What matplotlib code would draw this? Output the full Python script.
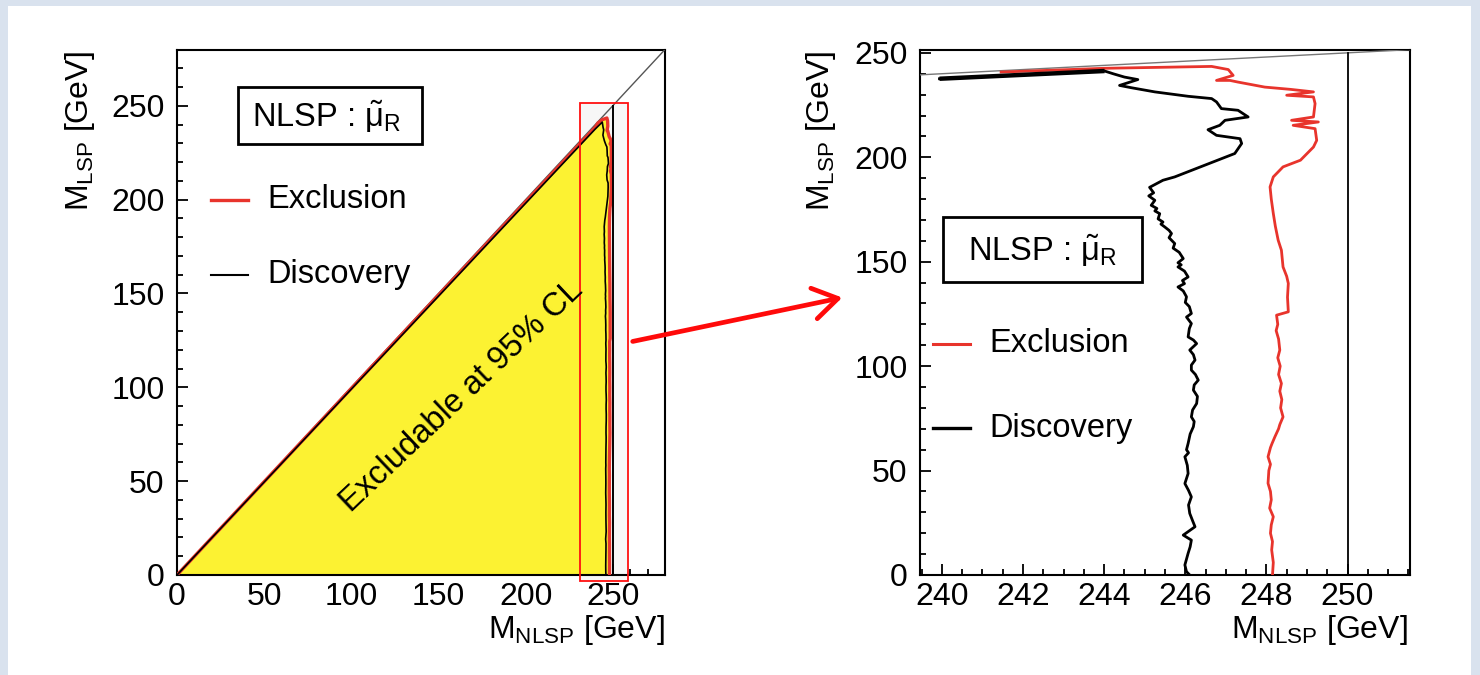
import matplotlib
matplotlib.use("Agg")
import matplotlib.pyplot as plt
from matplotlib.patches import Rectangle, FancyArrowPatch
from matplotlib.lines import Line2D
from matplotlib.ticker import MultipleLocator

plt.rcParams['font.family'] = ['Liberation Sans', 'DejaVu Sans']
plt.rcParams['mathtext.fontset'] = 'custom'
plt.rcParams['mathtext.rm'] = 'Liberation Sans'
plt.rcParams['mathtext.it'] = 'Liberation Sans'
plt.rcParams['mathtext.bf'] = 'Liberation Sans:bold'

# ---------------- data ----------------
# Discovery contour (M_NLSP, M_LSP) in GeV; first point is the origin of the diagonal edge
disc_x = [0.0, 239.94, 244.01, 244.22, 244.50, 244.83, 244.38, 244.67, 245.25, 246.07,
          246.65, 246.77, 246.89, 247.30, 247.55, 246.98, 246.85, 246.56, 246.77, 247.35,
          247.39, 247.22, 246.48, 245.74, 245.45, 245.12, 245.22, 245.10, 245.25, 245.16,
          245.30, 245.25, 245.37, 245.33, 245.45, 245.40, 245.49, 245.60, 245.66, 245.60,
          245.74, 245.70, 245.85, 245.95, 245.82, 245.90, 245.82, 245.98, 246.07, 245.93,
          245.98, 245.82, 245.95, 246.03, 246.00, 246.10, 246.15, 246.03, 246.15, 246.10,
          246.07, 246.20, 246.28, 246.11, 246.20, 246.24, 246.15, 246.15, 246.25, 246.32,
          246.22, 246.20, 246.30, 246.28, 246.18, 246.15, 246.22, 246.20, 246.12, 246.07,
          246.03, 246.08, 245.99, 246.05, 246.07, 245.99, 246.08, 246.15, 246.08, 246.11,
          246.18, 246.24, 245.95, 246.15, 246.12, 246.07, 245.99, 246.03, 246.11]
disc_y = [0.0, 237.6, 241.3, 240.0, 238.4, 237.2, 234.4, 233.3, 231.3, 229.2,
          228.1, 226.5, 223.3, 222.5, 219.3, 217.7, 215.3, 213.2, 210.5, 208.9,
          206.6, 201.8, 196.2, 190.6, 189.0, 185.6, 183.0, 181.5, 179.4, 177.0,
          175.5, 174.3, 173.0, 170.5, 169.0, 168.0, 166.7, 165.0, 163.5, 161.5,
          158.7, 156.5, 154.5, 151.5, 149.5, 148.5, 147.5, 145.5, 142.7, 141.0,
          139.5, 137.9, 136.0, 133.2, 130.5, 128.5, 125.2, 123.5, 120.4, 118.0,
          114.0, 112.5, 110.8, 107.7, 105.5, 102.9, 100.5, 98.1, 96.0, 93.3,
          91.0, 88.5, 85.5, 82.1, 79.0, 75.7, 73.5, 71.0, 67.5, 63.0,
          60.0, 58.5, 56.6, 52.5, 48.6, 43.8, 40.5, 37.4, 33.5, 29.5,
          26.0, 23.1, 19.1, 16.7, 13.5, 10.4, 4.8, 1.6, 0.0]

# Exclusion contour (M_NLSP, M_LSP) in GeV; first two points form the diagonal edge
excl_x = [0.0, 240.00, 241.46, 244.00, 246.65, 247.06, 247.18, 246.77, 247.10, 247.30,
          247.96, 248.60, 249.16, 248.50, 249.16, 249.20, 249.16, 248.62, 249.28, 248.66,
          249.20, 249.24, 249.16, 248.84, 248.41, 248.17, 248.09, 248.12, 248.17, 248.22,
          248.29, 248.37, 248.41, 248.50, 248.54, 248.52, 248.54, 248.25, 248.28, 248.24,
          248.30, 248.33, 248.28, 248.34, 248.30, 248.37, 248.33, 248.38, 248.35, 248.41,
          248.33, 248.30, 248.21, 248.14, 248.10, 248.04, 248.10, 248.06, 248.04, 248.10,
          248.12, 248.08, 248.17, 248.12, 248.10, 248.15, 248.13, 248.17, 248.15]
excl_y = [0.0, 238.6, 240.8, 242.6, 243.5, 242.0, 239.2, 236.8, 236.8, 236.0,
          233.6, 232.5, 231.3, 229.7, 228.9, 225.7, 219.3, 217.7, 216.9, 215.3,
          213.7, 208.1, 204.9, 198.6, 195.4, 190.6, 185.8, 180.0, 173.1, 167.0,
          160.3, 155.5, 147.5, 143.0, 139.6, 133.0, 126.0, 124.4, 120.0, 117.0,
          113.0, 107.7, 104.0, 100.0, 96.0, 91.7, 88.0, 84.0, 80.0, 75.7,
          72.0, 70.0, 66.2, 63.0, 61.0, 56.6, 53.0, 50.0, 43.9, 40.0,
          36.0, 32.0, 27.9, 24.0, 20.0, 16.0, 12.0, 6.0, 0.0]

diag = [0.0, 280.0]            # M_LSP = M_NLSP line
beam_x = [250.0, 250.0]        # kinematic limit
beam_y = [0.0, 250.0]
zoom_box = (231.2, -3.2, 258.7, 251.5)   # highlighted region on left plot

left_ticks = [0, 50, 100, 150, 200, 250]
right_xticks = [240, 242, 244, 246, 248, 250]
right_yticks = [0, 50, 100, 150, 200, 250]

RED = '#e8342c'
YELLOW = '#fcf232'

W, H = 1480, 675
fig = plt.figure(figsize=(W / 100, H / 100), dpi=100)
fig.patch.set_facecolor('#d9e2ee')

def fx(x):
    return x / W

def fy(y):
    return 1 - y / H

# white panel
fig.add_artist(Rectangle((fx(8), fy(675)), fx(1471) - fx(8), fy(6) - fy(675),
                         transform=fig.transFigure, facecolor='white', edgecolor='none', zorder=0))

axL = fig.add_axes([fx(177), fy(575), fx(665) - fx(177), fy(49.5) - fy(575)])
axR = fig.add_axes([fx(920), fy(575), fx(1410) - fx(920), fy(49.5) - fy(575)])

FS = 23
for ax in (axL, axR):
    ax.set_facecolor('white')
    for s in ax.spines.values():
        s.set_linewidth(1.5)
    ax.tick_params(which='both', direction='in', top=False, right=False, width=1.3,
                   labelsize=FS)
    ax.tick_params(which='major', length=8)
    ax.tick_params(which='minor', length=4.2)
    ax.tick_params(axis='x', pad=5)
    ax.tick_params(axis='y', pad=9)

# ---------------- left plot ----------------
axL.set_xlim(0, 280)
axL.set_ylim(0, 280)
axL.set_xticks(left_ticks)
axL.set_yticks(left_ticks)
axL.xaxis.set_minor_locator(MultipleLocator(10))
axL.yaxis.set_minor_locator(MultipleLocator(10))

bx0, by0, bx1, by1 = zoom_box
axL.add_patch(Rectangle((bx0, by0), bx1 - bx0, by1 - by0, facecolor=(0.5, 0.5, 0.5, 0.06),
                        edgecolor='none', zorder=1, clip_on=False))
axL.fill(excl_x, excl_y, color=YELLOW, zorder=2, lw=0)
axL.plot(diag, diag, color='#555555', lw=1.0, zorder=3)
axL.plot(excl_x, excl_y, color=RED, lw=2.4, zorder=4)
axL.plot(disc_x, disc_y, color='black', lw=1.2, zorder=5)
axL.plot(beam_x, beam_y, color='black', lw=1.4, zorder=5)
axL.add_patch(Rectangle((bx0, by0), bx1 - bx0, by1 - by0, facecolor='none',
                        edgecolor='#ff1010', lw=1.3, zorder=6, clip_on=False))
axL.text(163.5, 95.4, 'Excludable at 95% CL', rotation=43.5, ha='center', va='center',
         rotation_mode='anchor', fontsize=23.5, zorder=7)

# ---------------- right plot ----------------
axR.set_xlim(239.46, 251.54)
axR.set_ylim(0, 251.6)
axR.set_xticks(right_xticks)
axR.set_yticks(right_yticks)
axR.xaxis.set_minor_locator(MultipleLocator(0.5))
axR.yaxis.set_minor_locator(MultipleLocator(10))
axR.plot(diag, diag, color='#777777', lw=1.0, zorder=3)
axR.plot(beam_x, beam_y, color='black', lw=1.3, zorder=3)
axR.plot(excl_x[2:], excl_y[2:], color=RED, lw=2.0, zorder=4)
axR.plot(disc_x[1:], disc_y[1:], color='black', lw=2.0, zorder=5)
axR.plot(disc_x[1:3], disc_y[1:3], color='black', lw=3.2, zorder=5, solid_capstyle='butt')

# ---------------- labels ----------------
ylab = r'M$_{\mathrm{LSP}}$ [GeV]'
xlab = r'M$_{\mathrm{NLSP}}$ [GeV]'
fig.text(fx(80), fy(50), ylab, rotation=90, ha='center', va='top', fontsize=FS)
fig.text(fx(821), fy(50), ylab, rotation=90, ha='center', va='top', fontsize=FS)
fig.text(fx(665), fy(638), xlab, ha='right', va='baseline', fontsize=FS)
fig.text(fx(1408), fy(638), xlab, ha='right', va='baseline', fontsize=FS)

# ---------------- legends ----------------
def legend(box, text_xy, red_y, blk_y, line_x, txt_x, lw_r, lw_k):
    x0, y0, x1, y1 = box
    fig.add_artist(Rectangle((fx(x0), fy(y1)), fx(x1) - fx(x0), fy(y0) - fy(y1),
                             transform=fig.transFigure, facecolor='white',
                             edgecolor='black', lw=2.0, zorder=8))
    fig.text(fx(text_xy[0]), fy(text_xy[1]), r'NLSP : $\tilde{\mu}_{\mathrm{R}}$',
             ha='center', va='center', fontsize=FS + 0.5, zorder=9)
    fig.add_artist(Line2D([fx(line_x[0]), fx(line_x[1])], [fy(red_y), fy(red_y)],
                          transform=fig.transFigure, color=RED, lw=lw_r, zorder=9))
    fig.add_artist(Line2D([fx(line_x[0]), fx(line_x[1])], [fy(blk_y), fy(blk_y)],
                          transform=fig.transFigure, color='black', lw=lw_k, zorder=9))
    fig.text(fx(txt_x), fy(red_y), 'Exclusion', ha='left', va='center', fontsize=FS + 0.5, zorder=9)
    fig.text(fx(txt_x), fy(blk_y), 'Discovery', ha='left', va='center', fontsize=FS + 0.5, zorder=9)

legend((238, 87, 422, 144), (327, 117), 200, 275, (211, 248), 267, 2.4, 1.5)
legend((943, 217, 1142, 282), (1043, 251), 344, 428, (933, 970), 989, 2.2, 2.4)

# ---------------- arrow ----------------
fig.add_artist(FancyArrowPatch((fx(630), fy(342)), (fx(845), fy(297)),
                               transform=fig.transFigure, arrowstyle='->,head_length=11,head_width=7',
                               color='#ff0a0a', lw=3.4, zorder=10, mutation_scale=1.6))

fig.savefig('out.png', dpi=100, facecolor=fig.get_facecolor())
